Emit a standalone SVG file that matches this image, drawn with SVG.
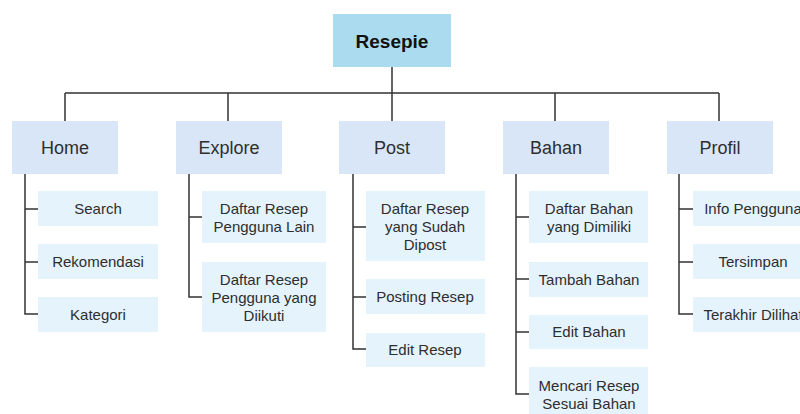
<svg xmlns="http://www.w3.org/2000/svg" width="800" height="414" viewBox="0 0 800 414">
<style>
text{font-family:"Liberation Sans",Arial,sans-serif;fill:#2e2e2e;text-anchor:middle}
.root{fill:#abdbee}
.cat{fill:#d9e6f8}
.leaf{fill:#e5f3fc}
.ct{font-size:18px}
.lt{font-size:15px}
.rt{font-size:19px;font-weight:bold;fill:#111}
.ln{stroke:#333;stroke-width:1.5;fill:none}
</style>
<rect width="800" height="414" fill="#fff"/>
<g id="connectors" class="ln">
<path d="M392 67V93M65 93H719M65 93V121M228 93V121M392 93V121M555 93V121M719 93V121"/>
<path d="M25 174V314H38M25 209H38M25 262H38"/>
<path d="M189 174V297H202M189 217H202"/>
<path d="M353 174V349H366M353 227H366M353 297H366"/>
<path d="M516 174V394H529M516 217H529M516 279H529M516 332H529"/>
<path d="M679 174V314H693M679 209H693M679 262H693"/>
</g>
<g id="root"><rect class="root" x="333" y="14" width="118" height="53"/><text class="rt" x="392" y="48">Resepie</text></g>
<g id="home"><rect class="cat" x="12" y="121" width="106" height="53"/><text class="ct" x="65" y="154">Home</text></g>
<g id="explore"><rect class="cat" x="176" y="121" width="106" height="53"/><text class="ct" x="229" y="154">Explore</text></g>
<g id="post"><rect class="cat" x="339" y="121" width="106" height="53"/><text class="ct" x="392" y="154">Post</text></g>
<g id="bahan"><rect class="cat" x="503" y="121" width="106" height="53"/><text class="ct" x="556" y="154">Bahan</text></g>
<g id="profil"><rect class="cat" x="667" y="121" width="106" height="53"/><text class="ct" x="720" y="154">Profil</text></g>
<g id="search"><rect class="leaf" x="38" y="191" width="120" height="35"/><text class="lt" x="98" y="214">Search</text></g>
<g id="rekomendasi"><rect class="leaf" x="38" y="244" width="120" height="35"/><text class="lt" x="98" y="267">Rekomendasi</text></g>
<g id="kategori"><rect class="leaf" x="38" y="297" width="120" height="35"/><text class="lt" x="98" y="320">Kategori</text></g>
<g id="daftar-resep-lain"><rect class="leaf" x="202" y="191" width="124" height="52"/><text class="lt" x="264" y="214">Daftar Resep</text><text class="lt" x="264" y="232">Pengguna Lain</text></g>
<g id="daftar-resep-diikuti"><rect class="leaf" x="202" y="262" width="124" height="70"/><text class="lt" x="264" y="285">Daftar Resep</text><text class="lt" x="264" y="303">Pengguna yang</text><text class="lt" x="264" y="321">Diikuti</text></g>
<g id="daftar-resep-dipost"><rect class="leaf" x="366" y="191" width="119" height="70"/><text class="lt" x="425" y="214">Daftar Resep</text><text class="lt" x="425" y="232">yang Sudah</text><text class="lt" x="425" y="250">Dipost</text></g>
<g id="posting-resep"><rect class="leaf" x="366" y="279" width="119" height="35"/><text class="lt" x="425" y="302">Posting Resep</text></g>
<g id="edit-resep"><rect class="leaf" x="366" y="333" width="119" height="34"/><text class="lt" x="425" y="355">Edit Resep</text></g>
<g id="daftar-bahan"><rect class="leaf" x="529" y="191" width="119" height="52"/><text class="lt" x="589" y="214">Daftar Bahan</text><text class="lt" x="589" y="232">yang Dimiliki</text></g>
<g id="tambah-bahan"><rect class="leaf" x="529" y="262" width="119" height="35"/><text class="lt" x="589" y="285">Tambah Bahan</text></g>
<g id="edit-bahan"><rect class="leaf" x="529" y="315" width="119" height="34"/><text class="lt" x="589" y="337">Edit Bahan</text></g>
<g id="mencari-resep"><rect class="leaf" x="529" y="367" width="119" height="55"/><text class="lt" x="589" y="391">Mencari Resep</text><text class="lt" x="589" y="409">Sesuai Bahan</text></g>
<g id="info-pengguna"><rect class="leaf" x="693" y="191" width="120" height="35"/><text class="lt" x="753" y="214">Info Pengguna</text></g>
<g id="tersimpan"><rect class="leaf" x="693" y="244" width="120" height="35"/><text class="lt" x="753" y="267">Tersimpan</text></g>
<g id="terakhir-dilihat"><rect class="leaf" x="693" y="297" width="120" height="35"/><text class="lt" x="753" y="320">Terakhir Dilihat</text></g>
</svg>
